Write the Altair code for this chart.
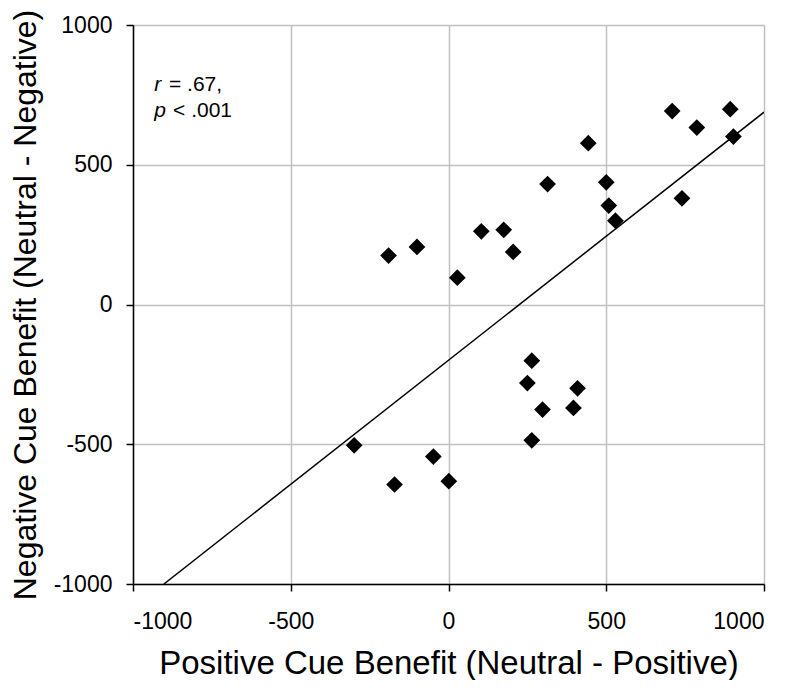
import altair as alt
import pandas as pd

# Scatter data (Positive cue benefit, Negative cue benefit)
pos_benefit = [-190, -100, 28, 104, 175, 205, 314, 443, 500, 508, 529, 709, 787, 740, 893, 903,
               264, 250, 409, 298, 396, 264, -299, -48, -171, 1]
neg_benefit = [175, 206, 96, 262, 267, 188, 431, 577, 437, 354, 300, 692, 633, 380, 699, 601,
               -201, -281, -300, -376, -370, -486, -504, -544, -644, -632]

# Regression line end points
line_x = [-902, 1000]
line_y = [-1000, 688]

# Annotation (italic symbol + rest of the text)
ann_sym = ["r", "p"]
ann_sym_x = [-933, -933]
ann_rest = ["= .67,", "< .001"]
ann_rest_x = [-886, -873]
ann_y = [764, 671]

ticks = [-1000, -500, 0, 500, 1000]

FONT = "Liberation Sans"

pts = pd.DataFrame({"x": pos_benefit, "y": neg_benefit})
line_df = pd.DataFrame({"x": line_x, "y": line_y})
ann_df = pd.DataFrame({"sx": ann_sym_x, "rx": ann_rest_x, "y": ann_y,
                       "sym": ann_sym, "rest": ann_rest})

xscale = alt.Scale(domain=[-1000, 1000], nice=False, zero=False)
yscale = alt.Scale(domain=[-1000, 1000], nice=False, zero=False)

common_axis = dict(
    values=ticks, grid=True, gridColor="#c0c0c0", gridWidth=1.5,
    domainColor="black", domainWidth=1.5, tickColor="black", tickWidth=1.5,
    tickSize=7, labelFont=FONT, labelFontSize=23, labelColor="black",
    labelExpr="datum.value + ''",
    titleFont=FONT, titleFontWeight="normal", titleColor="black",
    titleBaseline="alphabetic",
)

xaxis = alt.Axis(title="Positive Cue Benefit (Neutral - Positive)", labelPadding=19,
                 titleY=89, titleFontSize=33, **common_axis)
yaxis = alt.Axis(title="Negative Cue Benefit (Neutral - Negative)", labelPadding=14,
                 titleX=-98, titleAngle=270, titleAlign="center", titleFontSize=32,
                 **common_axis)

points = alt.Chart(pts).mark_point(shape="diamond", filled=True, size=280, color="black",
                                   opacity=1).encode(
    x=alt.X("x:Q", scale=xscale, axis=xaxis),
    y=alt.Y("y:Q", scale=yscale, axis=yaxis),
)

line = alt.Chart(line_df).mark_line(color="black", strokeWidth=1.5, clip=True).encode(
    x=alt.X("x:Q", scale=xscale),
    y=alt.Y("y:Q", scale=yscale),
)

sym = alt.Chart(ann_df).mark_text(font=FONT, fontSize=21, fontStyle="italic", align="left",
                                  baseline="alphabetic", color="black").encode(
    x=alt.X("sx:Q", scale=xscale), y=alt.Y("y:Q", scale=yscale), text="sym:N")

rest = alt.Chart(ann_df).mark_text(font=FONT, fontSize=21, align="left",
                                   baseline="alphabetic", color="black").encode(
    x=alt.X("rx:Q", scale=xscale), y=alt.Y("y:Q", scale=yscale), text="rest:N")

chart = alt.layer(line, points, sym, rest).properties(
    width=631, height=559,
    autosize=alt.AutoSizeParams(type="none"),
    padding={"left": 125, "top": 17, "right": 25, "bottom": 96},
).configure_view(strokeWidth=0).configure(background="white")

chart.save("out.html", embed_options={"renderer": "svg", "actions": False})
